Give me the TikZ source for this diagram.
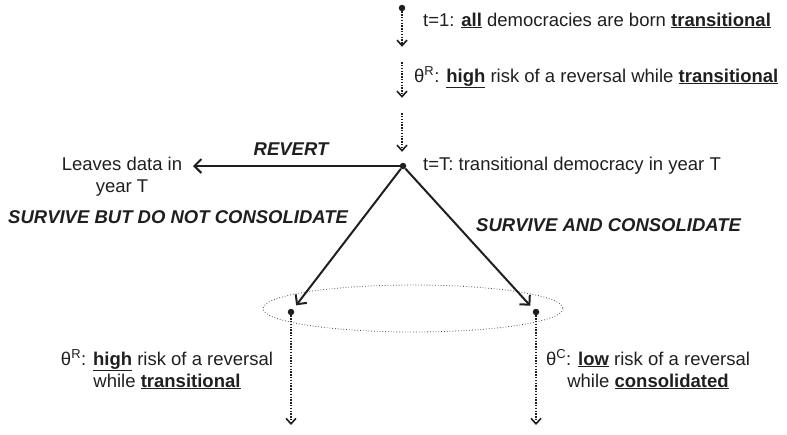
\documentclass[tikz,border=0pt]{standalone}
\usepackage{fontspec}
\setmainfont{Liberation Sans}
\usetikzlibrary{arrows.meta}
\newcommand{\ubf}[1]{\underline{\textbf{#1}}}
\newcommand{\thsup}[1]{θ\textsuperscript{#1}}
\begin{document}
\begin{tikzpicture}[x=1pt,y=-1pt,
  font=\fontsize{18.5}{22}\selectfont,
  every node/.style={text=black!88},
  dotpt/.style={circle,fill=black!88,inner sep=0pt,minimum size=6.5pt},
  waypt/.style={inner sep=0pt,minimum size=0pt},
  timestep/.style={draw=black!88,line width=2.2pt,dash pattern=on 1.4pt off 1.4pt,
    -{Straight Barb[length=5.5pt,width=10pt,line width=1.6pt]}},
  branch/.style={draw=black!88,line width=2pt,
    -{Straight Barb[length=7pt,width=14pt,line width=2pt]}},
  lbl/.style={font=\fontsize{18.5}{22}\selectfont\bfseries\itshape},
  note/.style={align=center,inner sep=0pt}]
\useasboundingbox (0,0) rectangle (787,434);

% points of the timeline
\node[dotpt] (start) at (402,8) {};
\node[waypt] (s1) at (402,62) {};
\node[waypt] (s2) at (402,113) {};
\node[waypt] (e1) at (402,47) {};
\node[waypt] (e2) at (402,98) {};
\node[waypt] (e3) at (402,152) {};
\node[dotpt] (tT) at (403,166) {};

% time steps before year T
\draw[timestep] (start) -- (e1);
\draw[timestep] (s1) -- (e2);
\draw[timestep] (s2) -- (e3);

\node[anchor=base west,inner sep=0pt] (t1txt) at (423,26)
  {t=1: \ubf{all} democracies are born \ubf{transitional}};
\node[anchor=base west,inner sep=0pt] (hightxt) at (414,82)
  {\thsup{R}: \ubf{high} risk of a reversal while \ubf{transitional}};
\node[anchor=base west,inner sep=0pt] (tTtxt) at (423,170)
  {t=T: transitional democracy in year T};

% outcomes in year T
\node[note,anchor=base] (leave) at (122,192) {Leaves data in\\year T};
\coordinate (revtip) at (193,166);
\draw[branch] (tT) -- (revtip);
\node[lbl,anchor=base,inner sep=0pt] (revlbl) at (291,155) {REVERT};

% the two surviving groups
\draw[dotted,line width=0.8pt,draw=black!70] (413,308.5) ellipse (150 and 23.5);
\node[dotpt] (trans) at (291,312) {};
\node[dotpt] (cons) at (536,312) {};
\draw[branch,shorten >=5pt] (tT) -- (trans);
\draw[branch,shorten >=5pt] (tT) -- (cons);
\node[lbl,anchor=base west,inner sep=0pt] (nocons) at (8,223) {SURVIVE BUT DO NOT CONSOLIDATE};
\node[lbl,anchor=base west,inner sep=0pt] (yescons) at (476,231) {SURVIVE AND CONSOLIDATE};

\coordinate (transend) at (291,425);
\coordinate (consend) at (536,425);
\draw[timestep] (trans) -- (transend);
\draw[timestep] (cons) -- (consend);

\node[note,anchor=base] (transtxt) at (167,387)
  {\thsup{R}: \ubf{high} risk of a reversal\\while \ubf{transitional}};
\node[note,anchor=base] (constxt) at (648,387)
  {\thsup{C}: \ubf{low} risk of a reversal\\while \ubf{consolidated}};
\end{tikzpicture}
\end{document}
